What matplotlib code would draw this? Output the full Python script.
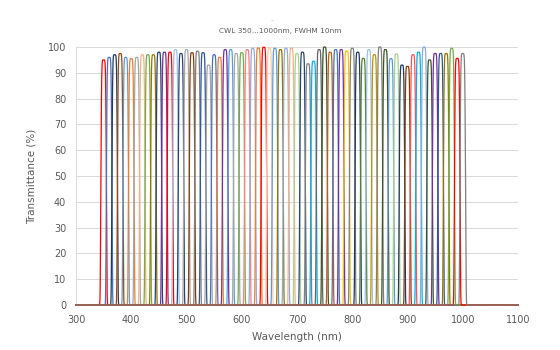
import numpy as np
import matplotlib
matplotlib.use("Agg")
import matplotlib.pyplot as plt

# Filter centre wavelengths (nm)
centers = [350, 360, 370, 380, 390, 400, 410, 420, 430, 440, 450, 460, 470, 480,
           490, 500, 510, 520, 530, 540, 550, 560, 570, 580, 590, 600, 610, 620,
           630, 640, 650, 660, 670, 680, 690, 700, 710, 720, 730, 740, 750, 760,
           770, 780, 790, 800, 810, 820, 830, 840, 850, 860, 870, 880, 890, 900,
           910, 920, 930, 940, 950, 960, 970, 980, 990, 1000]
# Peak transmittance (%)
peaks = [95, 96, 97, 97.5, 96, 95.5, 96, 97, 97, 97, 98, 98, 98, 99,
         97.5, 99, 97.8, 98.4, 97.8, 93, 97, 96, 99, 99, 97.5, 97.8, 99, 99.5,
         99.6, 99.9, 99.5, 99.5, 99, 99.5, 99.5, 97.5, 98, 93.5, 94.5, 99, 100, 98,
         99, 99, 98.5, 99.5, 98, 95.6, 99, 97, 100, 99, 95.5, 97.3, 93, 92.5,
         97, 98, 100, 95, 97.5, 97.5, 97.5, 99.5, 95.6, 97.5]
fwhm = 10.0
colors = ["#FF0000", "#4472C4", "#203864", "#9E480E", "#5B9BD5", "#ED7D31", "#A5A5A5",
          "#F4B183", "#70AD47", "#997300", "#264478", "#7030A0", "#FF0000", "#9DC3E6",
          "#264478", "#A5A5A5", "#843C0C", "#7F7F7F", "#2F5597", "#A5A5A5", "#4472C4",
          "#ED7D31", "#7030A0", "#5B9BD5", "#A5A5A5", "#70AD47", "#FF7C80", "#8FAADC",
          "#ED7D31", "#FF0000", "#F8CBAD", "#5B9BD5", "#997300", "#8FAADC", "#F4B183",
          "#A9D18E", "#264478", "#7F7F7F", "#00B0F0", "#636363", "#375623", "#C55A11",
          "#4472C4", "#7030A0", "#FFC000", "#7F7F7F", "#203864", "#548235", "#9DC3E6",
          "#BF9000", "#7F7F7F", "#385723", "#5B9BD5", "#A9D18E", "#203864", "#843C0C",
          "#FF5050", "#00B0F0", "#8FAADC", "#375623", "#7030A0", "#2F5597", "#997300",
          "#70AD47", "#FF0000", "#7F7F7F"]

fig = plt.figure(figsize=(5.6, 3.5), dpi=100)
ax = fig.add_axes([76/560, 1 - 305/350, (518 - 76)/560, (305 - 47)/350])

wl = np.linspace(300, 1100, 4001)
for c, p, col in zip(centers, peaks, colors):
    t = p * np.exp(-np.log(2) * np.abs((wl - c) / (fwhm / 2)) ** 6)
    ax.plot(wl, t, color=col, lw=0.9, zorder=3, clip_on=False)

ax.set_xlim(300, 1100)
ax.set_ylim(0, 100)
ax.set_xticks(np.arange(300, 1101, 100))
ax.set_yticks(np.arange(0, 101, 10))
ax.grid(axis="y", color="#D9D9D9", lw=0.7, zorder=0)
for s in ["top", "right", "bottom"]:
    ax.spines[s].set_visible(False)
ax.spines["left"].set_color("#D9D9D9")
ax.spines["left"].set_linewidth(0.7)
ax.tick_params(length=0, labelsize=7, colors="#595959", pad=7)
ax.set_xlabel("Wavelength (nm)", fontsize=7.5, color="#595959", labelpad=5)
ax.set_ylabel("Transmittance (%)", fontsize=7.5, color="#595959", labelpad=8)
fig.text(280/560, 1 - 31/350, "CWL 350...1000nm, FWHM 10nm", ha="center", va="center",
         fontsize=5.3, color="#595959")
fig.text(272/560, 1 - 20/350, "-", ha="center", va="center", fontsize=5, color="#BFBFBF")

fig.savefig("out.png", dpi=100)
